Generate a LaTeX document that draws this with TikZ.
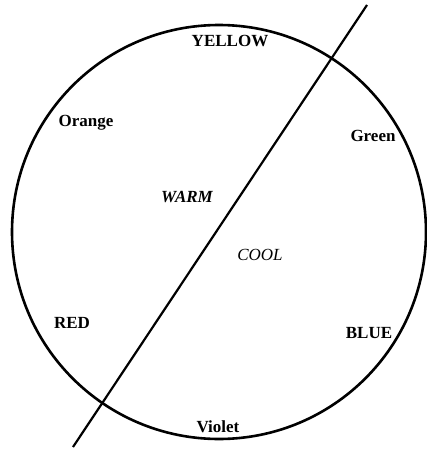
\documentclass[tikz,border=0pt]{standalone}
\usepackage{fontspec}
\setmainfont{Liberation Serif}
\begin{document}
\begin{tikzpicture}[
		x=1pt, y=-1pt,
		hue/.style  = {font=\fontsize{17}{20}\selectfont\bfseries, inner sep=0pt},
		temp/.style = {font=\fontsize{17}{20}\selectfont\itshape, inner sep=0pt},
		rim/.style  = {circle, draw, line width=2.6pt, minimum size=414pt, inner sep=0pt},
		cut/.style  = {line width=2.2pt},
		]
		\useasboundingbox (0, 0) rectangle (426, 450);
		
		% === === Nodes === ===
		\node[rim]			(wheel)		at	(219, 232)		{};
		
		\node[hue]			(yellow)	at	(230, 41)		{YELLOW};
		\node[hue]			(orange)	at	(86, 123)		{Orange};
		\node[hue]			(green)		at	(373, 136)		{Green};
		\node[hue]			(red)		at	(72, 323)		{RED};
		\node[hue]			(blue)		at	(369, 333)		{BLUE};
		\node[hue]			(violet)	at	(218, 427)		{Violet};
		
		\node[temp, font=\fontsize{17}{20}\selectfont\bfseries\itshape]
							(warm)		at	(187, 197)		{WARM};
		\node[temp]			(cool)		at	(260, 255)		{COOL};
		
		\coordinate			(top)		at	(367, 5);
		\coordinate			(bottom)	at	(73, 447);
		
		\draw[cut]		(top)	--	(bottom);
		
	\end{tikzpicture}
\end{document}
